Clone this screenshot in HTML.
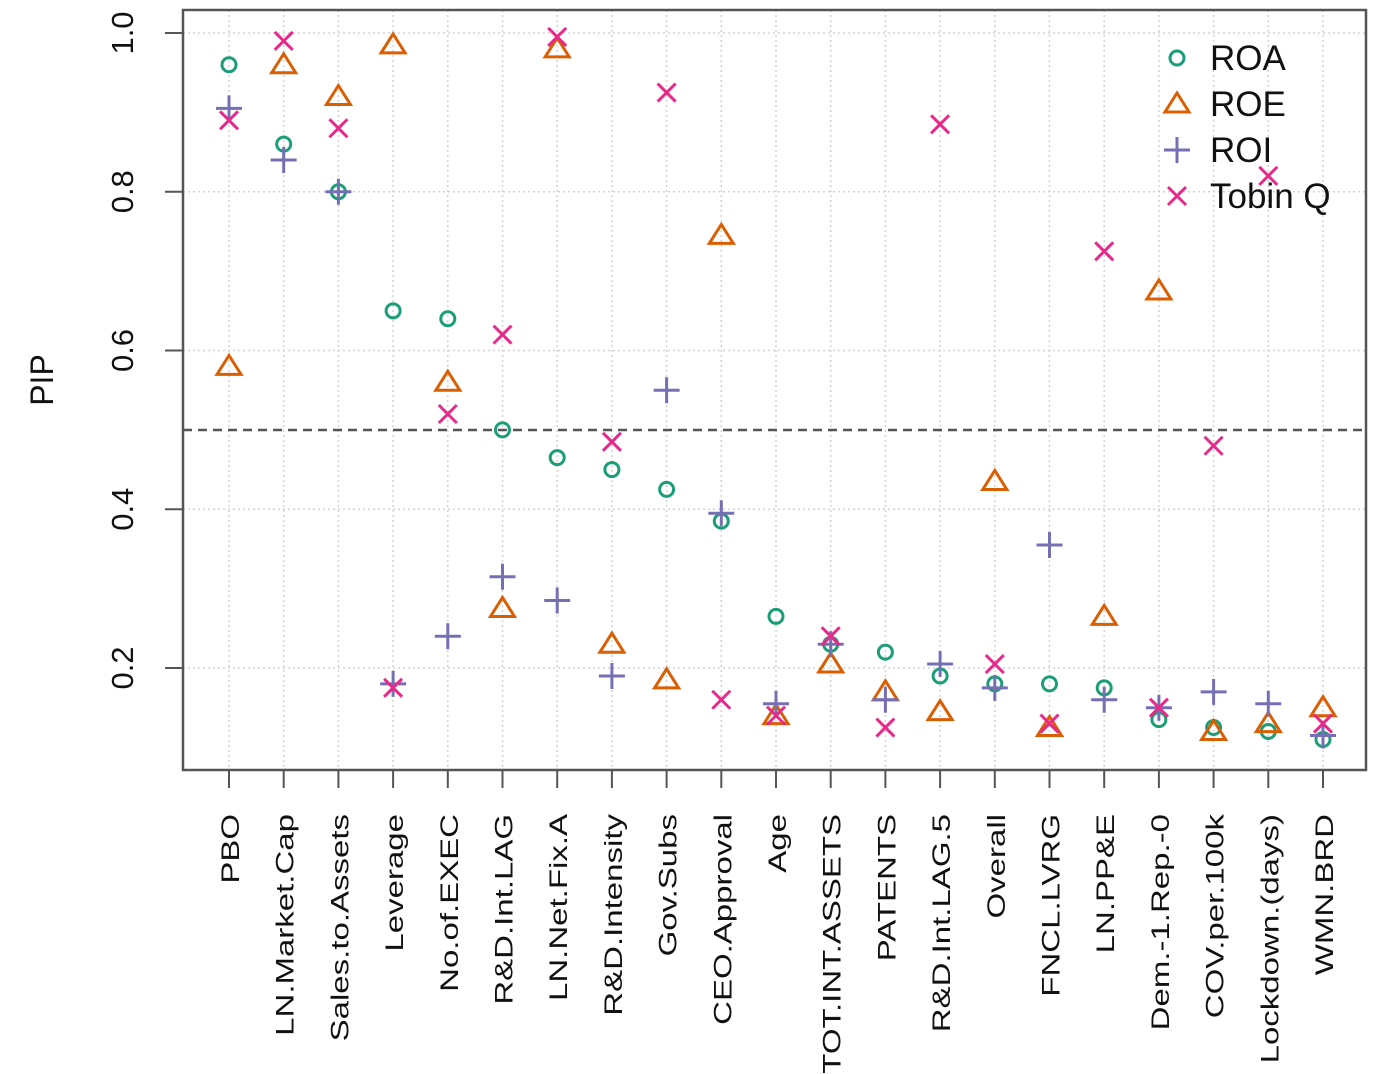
<!DOCTYPE html>
<html><head><meta charset="utf-8"><style>body{margin:0;background:#fff}svg{display:block}text{font-family:"Liberation Sans",Arial,sans-serif;fill:#111}</style></head>
<body>
<svg id="chart" width="1376" height="1074" xmlns="http://www.w3.org/2000/svg">
<g id="grid"></g>
<line x1="183" x2="1366" y1="430" y2="430" stroke="#555" stroke-width="2.5" stroke-dasharray="9,6"/>
<g id="marks"></g>
<rect x="183" y="10" width="1183" height="760" fill="none" stroke="#555" stroke-width="2.5"/>
<g id="axes"></g>
<text transform="translate(53,380) rotate(-90)" text-anchor="middle" font-size="32">PIP</text>
<g id="legend"></g>
</svg>
<script>
const categories=["PBO","LN.Market.Cap","Sales.to.Assets","Leverage","No.of.EXEC","R&D.Int.LAG","LN.Net.Fix.A","R&D.Intensity","Gov.Subs","CEO.Approval","Age","TOT.INT.ASSETS","PATENTS","R&D.Int.LAG.5","Overall","FNCL.LVRG","LN.PP&E","Dem.-1.Rep.-0","COV.per.100k","Lockdown.(days)","WMN.BRD"];
const roa=[0.96,0.86,0.80,0.65,0.64,0.50,0.465,0.45,0.425,0.385,0.265,0.23,0.22,0.19,0.18,0.18,0.175,0.135,0.125,0.12,0.11];
const roe=[0.58,0.96,0.92,0.985,0.56,0.275,0.98,0.23,0.185,0.745,0.14,0.205,0.17,0.145,0.435,0.125,0.265,0.675,0.12,0.13,0.15];
const roi=[0.905,0.84,0.80,0.18,0.24,0.315,0.285,0.19,0.55,0.395,0.155,0.23,0.16,0.205,0.175,0.355,0.16,0.15,0.17,0.155,0.115];
const tobinq=[0.89,0.99,0.88,0.175,0.52,0.62,0.995,0.485,0.925,0.16,0.14,0.24,0.125,0.885,0.205,0.13,0.725,0.15,0.48,0.82,0.13];
const yTicks=[0.2,0.4,0.6,0.8,1.0];
const yTickLabels=["0.2","0.4","0.6","0.8","1.0"];
const seriesNames=["ROA","ROE","ROI","Tobin Q"];
const NS="http://www.w3.org/2000/svg";
const x=i=>229+i*(1323-229)/(categories.length-1);
const y=v=>668-(v-0.2)*(668-33)/0.8;
const colors=["#1b9e77","#d95f02","#7570b3","#e7298a"];
function mk(tag,attrs,parent){const e=document.createElementNS(NS,tag);for(const k in attrs)e.setAttribute(k,attrs[k]);parent.appendChild(e);return e;}
const grid=document.getElementById('grid'),marks=document.getElementById('marks'),axes=document.getElementById('axes'),legend=document.getElementById('legend');
yTicks.forEach((t,i)=>{
 const g=mk('line',{x1:183,x2:1366,y1:y(t),y2:y(t),stroke:'#d3d3d3','stroke-width':1.5,'stroke-dasharray':'2,3'},grid);
 
 
 const tk=mk('line',{x1:165,x2:183,y1:y(t),y2:y(t),stroke:'#555','stroke-width':2},axes);
 
 
 const lb=mk('text',{transform:`translate(133,${y(t)}) rotate(-90)`,'text-anchor':'middle','font-size':31},axes);
 lb.textContent=yTickLabels[i];
 
 
});
categories.forEach((c,i)=>{
 const g=mk('line',{x1:x(i),x2:x(i),y1:10,y2:770,stroke:'#d3d3d3','stroke-width':1.5,'stroke-dasharray':'2,3'},grid);
 
 
 const tk=mk('line',{x1:x(i),x2:x(i),y1:770,y2:788,stroke:'#555','stroke-width':2},axes);
 
 
 const lb=mk('text',{transform:`translate(${x(i)+10},814) rotate(-90) scale(1.32,1)`,'text-anchor':'end','font-size':25},axes);
 lb.textContent=c;
 
 
});
function marker(type,cx,cy,parent){
 const col=colors[type];let e;
 if(type===0)e=mk('circle',{cx,cy,r:7,fill:'none',stroke:col,'stroke-width':3},parent);
 else if(type===1)e=mk('polygon',{points:`${cx},${cy-11} ${cx+12},${cy+8} ${cx-12},${cy+8}`,fill:'none',stroke:col,'stroke-width':3},parent);
 else if(type===2)e=mk('path',{d:`M${cx-13},${cy}H${cx+13}M${cx},${cy-13}V${cy+13}`,stroke:col,'stroke-width':3},parent);
 else e=mk('path',{d:`M${cx-9},${cy-9}L${cx+9},${cy+9}M${cx-9},${cy+9}L${cx+9},${cy-9}`,stroke:col,'stroke-width':3},parent);
 return e;
}
[roa,roe,roi,tobinq].forEach((s,si)=>s.forEach((v,i)=>{
 const e=marker(si,x(i),y(v),marks);
 
 
}));
seriesNames.forEach((n,i)=>{
 const ly=58+i*46;
 const e=marker(i,1177,ly,legend);
 
 
 const t=mk('text',{x:1210,y:ly+12,'font-size':35},legend);
 t.textContent=n;
 
 
});
</script>
</body></html>
